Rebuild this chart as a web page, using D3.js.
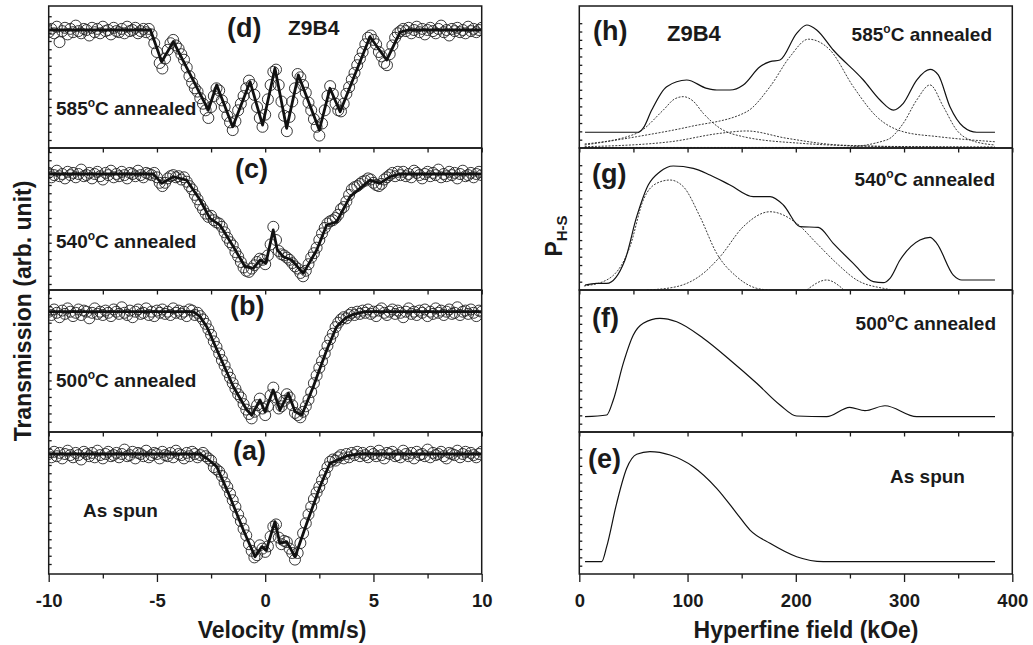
<!DOCTYPE html>
<html>
<head>
<meta charset="utf-8">
<script src="https://cdn.jsdelivr.net/npm/d3@7"></script>
<style>
  body { margin: 0; background: #fff; }
  text { font-family: "Liberation Sans", Arial, sans-serif; font-weight: bold; fill: #1a1a1a; }
</style>
</head>
<body>
<svg id="chart" width="1033" height="645"></svg>
<script>
// Mossbauer spectra, channel velocity = channelStart + i * channelStep (mm/s)
const channelStart = -10, channelStep = 0.125;

const transD = [98,101,97,103,89,99,102,96,101,98,104,99,97,101,100,95,102,98,101,97,103,99,100,96,102,99,98,101,97,103,99,100,102,97,99,101,98,
  101,96,88,80,70,65,74,82,88,91,
  86,83,78,73,66,58,52,47,44,38,
  33,27,20,30,40,47,45,36,30,22,
  16,9,17,27,33,40,47,54,50,41,
  30,20,12,23,37,50,62,64,50,35,
  22,8,21,35,47,60,57,50,43,34,
  27,19,12,4,15,27,40,49,42,33,
  27,26,33,42,48,55,61,68,74,80,
  87,93,95,91,87,80,76,70,68,78,
  86,93,97,99,101,
  99,102,97,100,103,98,101,96,100,102,99,97,101,104,98,100,95,101,99,102,98,100,97,103,99,101,98,100,102];

const transC = [101,97,99,103,98,100,96,102,99,101,97,100,104,98,99,101,96,100,102,98,95,101,99,103,97,100,98,102,99,96,101,100,98,103,99,97,101,100,
  99,101,97,92,89,92,96,98,99,97,
  98,95,97,93,89,86,81,77,72,68,
  64,61,62,58,56,55,52,47,42,38,
  35,29,25,20,15,12,11,14,17,20,
  23,22,18,26,36,52,40,30,27,26,
  24,22,19,16,14,10,7,12,18,24,
  28,33,40,46,51,55,57,58,60,63,
  68,70,75,81,86,88,89,91,93,94,
  96,95,92,90,89,91,95,97,99,101,
  98,102,
  99,102,98,100,97,103,101,99,96,100,102,98,101,99,104,97,100,98,102,99,101,96,100,103,98,99,101,97,100,102,99];

const transB = [100,97,102,99,95,101,98,103,100,96,99,102,97,101,100,94,99,103,98,100,97,101,99,96,102,100,98,104,99,97,101,95,100,102,98,99,103,97,100,96,101,99,102,98,100,97,103,99,101,98,100,96,102,
  101,97,99,96,93,89,84,79,73,68,
  62,56,51,45,40,35,30,25,22,16,
  11,7,3,9,15,21,12,6,14,24,
  31,22,12,14,19,25,22,15,8,6,
  4,9,14,20,27,35,42,49,55,62,
  69,75,80,86,90,93,95,94,97,99,
  97,100,98,101,
  99,102,98,100,96,101,103,99,97,100,102,98,101,99,95,100,103,98,100,97,101,99,102,96,100,98,103,99,101,97,100,102,98,99,104,97,100,101,98,102,99,96,101,100];

const transA = [100,97,102,98,101,96,100,103,99,97,101,99,95,102,100,98,101,97,103,99,96,100,102,98,99,101,97,100,104,98,99,102,96,101,100,98,103,97,99,101,100,96,102,99,98,101,97,103,100,99,96,101,98,102,100,97,
  99,101,98,96,94,88,86,84,80,74,
  70,64,58,52,45,39,32,26,18,12,
  6,8,17,14,11,16,25,34,36,24,
  18,21,20,14,10,4,10,19,28,37,
  45,52,59,65,70,76,82,88,93,95,
  94,97,99,96,100,97,101,99,102,98,
  101,99,97,102,100,98,103,99,96,101,100,102,98,99,97,103,100,98,101,96,102,99,100,98,104,97,101,99,100,102,98,96,101,100,99,103,97,100,102,98,101,99,97,100,102];

// fitted curves [velocity, transmission]
const fitD = [[-10,100],[-5.3,100],[-4.78,71.2],[-4.24,89.4],[-2.63,27.3],[-2.24,50],[-1.5,12.1],[-0.7,53],[-0.12,13.6],[0.45,65.2],[0.99,10.6],[1.53,59.1],[2.5,9.1],[2.99,47],[3.46,25.7],[4.84,93.9],[5.61,72.7],[6.23,98],[6.6,100],[10,100]];
const fitC = [[-10,100],[-5.17,100],[-4.78,91.5],[-4.24,97.5],[-3.63,94.5],[-3.01,76.4],[-2.55,59.7],[-2.09,53.6],[-1.47,33.9],[-0.93,15.7],[-0.55,14.3],[-0.24,21.8],[0.03,18.8],[0.37,49.1],[0.56,30.9],[0.84,24.8],[1.22,21.8],[1.76,9.7],[2.38,30.9],[2.84,53.6],[3.3,56.6],[3.92,79.4],[4.84,94.5],[5.3,91.5],[5.76,97.5],[6.2,100],[10,100]];
const fitB = [[-10,100],[-3.32,100],[-3.01,95.5],[-2.7,86.4],[-2.09,59.1],[-1.47,31.8],[-0.85,10.6],[-0.62,6.1],[-0.24,19.7],[-0.01,9.1],[0.37,28.8],[0.68,10.6],[1.07,25.8],[1.38,9.1],[1.69,6.1],[2.22,31.8],[2.84,65.2],[3.3,86.4],[3.7,94],[4.07,97.6],[4.6,100],[10,100]];
const fitA = [[-10,100],[-3.01,100],[-2.7,96.1],[-2.24,88.5],[-1.63,61.2],[-1.01,30.9],[-0.47,6.6],[-0.16,15.7],[0.05,12.7],[0.45,38.5],[0.68,18.8],[0.99,20.3],[1.38,6.6],[1.92,37],[2.53,70.3],[2.99,91.5],[3.76,98.2],[4.3,100],[10,100]];

// hyperfine field distributions [field kOe, P]
const distH = [[5.3,12.1],[54.5,12.1],[59,15.2],[66.9,29.2],[80.7,47.2],[99.2,52.3],[117.7,45.9],[126.9,44.6],[139.2,44.6],[151.5,48.5],[166.9,62.5],[176.2,66.4],[185.4,67.7],[200.8,88.2],[210.1,94.6],[219.3,90.8],[234.6,75.4],[262.4,52.3],[277.8,36.9],[290.1,29.2],[299.3,34.4],[311.7,52.3],[324,60.5],[331.6,56.2],[342.4,31.8],[354.7,16.4],[367.1,12.1],[384,12.1]];
const compH1 = [[5,3.1],[53,11.3],[77.6,29.2],[88,37.7],[96.1,39.5],[105,36.2],[114.5,26.7],[130,15.2],[151.5,8.7],[205,3.6],[280,1.2],[384,0.4]];
const compH2 = [[5,2.3],[53,8.7],[102,16.4],[154.6,27.9],[176.2,47.2],[194.6,70.2],[211.6,83.7],[231.6,75.4],[253.1,47.2],[274.7,24.1],[299.3,12.5],[331.6,8.7],[384,4.8]];
const compH3 = [[5,1],[84,4.8],[130,11.3],[154.6,13.1],[191.5,7.5],[240,2.3],[290,1.2],[384,0.8]];
const compH4 = [[5,0.4],[240,0.4],[284,6.2],[299.3,19],[311.7,36.9],[324,48.5],[336.3,31.8],[348.6,13.8],[361,6.2],[384,2.3]];

const distG = [[5.3,3.8],[16,5.1],[25.3,5.1],[42.2,23.1],[53,56.4],[63.7,80.8],[74.5,91],[86.8,95.4],[105.3,93.6],[120.7,88.5],[139.2,80.8],[160.7,71.8],[176.2,71.8],[188.5,65.4],[203.9,48.7],[220.8,48.2],[234.6,35.9],[253.1,20.5],[271.6,6.4],[280.8,5.6],[287,9],[296.3,23.1],[314.7,38.5],[324,40.5],[330.2,35.9],[345.5,11.5],[353.3,7.7],[384,7.7]];
const compG1 = [[4.3,3.1],[25.3,7.7],[46.8,33.3],[59.1,69.2],[71.5,82.1],[83.8,84.6],[96.1,79.5],[111.5,56.4],[126.9,28.2],[145.4,10.2],[163.9,1.3],[176,0]];
const compG2 = [[62.3,0],[90,2.6],[114.5,12.8],[130,25.6],[151.5,48.7],[176.2,60.2],[200.8,51.3],[219.3,35.9],[237.8,20.5],[256.3,7.7],[280.8,1.3],[290,0]];
const compG3 = [[210.1,0],[228.5,7.7],[243.9,0.5]];

const distF = [[5.3,11.8],[25.3,13.1],[31.4,24.6],[40.6,52.8],[49.9,74.6],[59.1,83.6],[74.5,87.4],[90,84.8],[114.5,72.1],[139.2,55.4],[163.9,37.5],[185.4,20.8],[200.8,12.3],[228.5,11.8],[249.8,19],[263.9,16.4],[282.4,20.2],[311.7,11.8],[384,11.8]];

const distE = [[5.3,9.5],[20.7,9.5],[25.3,21],[34.5,54.4],[43.8,81.3],[53,92.1],[65.3,94.1],[83.8,91.5],[105.3,82.5],[126.9,65.9],[145.4,46.7],[157.7,33.8],[176.2,23.6],[200.8,13.3],[225.4,9.5],[384,9.5]];

const velTicks = [-10, -5, 0, 5, 10];
const velMinor = [-7.5, -2.5, 2.5, 7.5];
const fieldTicks = [0, 100, 200, 300, 400];
const fieldMinor = [50, 150, 250, 350];

// ---- layout
const svg = d3.select("#chart");
const panelTops = [6, 148, 290, 432], panelH = 142;
const ink = "#1a1a1a";

let xV = d3.scaleLinear().domain([-10, 10]).range([48.7, 481.7]);
let xH = d3.scaleLinear().domain([0, 400]).range([579.3, 1012.3]);

const leftPanels = [
  {trans: transD, fit: fitD, base: 24},
  {trans: transC, fit: fitC, base: 26},
  {trans: transB, fit: fitB, base: 21.7},
  {trans: transA, fit: fitA, base: 22}
];
const rightPanels = [
  {dist: distH, comps: [compH1, compH2, compH3, compH4]},
  {dist: distG, comps: [compG1, compG2, compG3]},
  {dist: distF, comps: []},
  {dist: distE, comps: []}
];

function styleAxis(g) {
  g.select(".domain").remove();
  g.selectAll("line").attr("stroke", ink).attr("stroke-width", 1.3);
  g.selectAll("text")
    .style("font-family", '"Liberation Sans", Arial, sans-serif')
    .style("font-weight", "bold")
    .style("font-size", "18.5px")
    .attr("fill", ink);
}

function addBottomAxis(x, major, minor, bottom, isLast) {
  let majLen = isLast ? 8 : 4.5, minLen = 4.5;
  svg.append("g")
    .attr("transform", `translate(0,${bottom})`)
    .call(d3.axisBottom(x).tickValues(major).tickSize(majLen).tickPadding(12)
      .tickFormat(isLast ? (d => String(d)) : ""))
    .call(styleAxis);
  svg.append("g")
    .attr("transform", `translate(0,${bottom})`)
    .call(d3.axisBottom(x).tickValues(minor).tickSize(minLen).tickFormat(""))
    .call(styleAxis);
}

function addFrame(x0, x1, top) {
  svg.append("rect")
    .attr("x", x0).attr("y", top)
    .attr("width", x1 - x0).attr("height", panelH)
    .attr("fill", "none").attr("stroke", ink).attr("stroke-width", 1.5);
}

function addClip(id, x0, x1, top) {
  svg.append("clipPath").attr("id", id)
    .append("rect").attr("x", x0).attr("y", top).attr("width", x1 - x0).attr("height", panelH);
}

// left column: spectra
leftPanels.forEach(function (p, k) {
  let top = panelTops[k];
  let y = d3.scaleLinear().domain([100, 0]).range([top + p.base, top + p.base + 110]);
  addClip("clipL" + k, 48.7, 481.7, top);
  let g = svg.append("g").attr("clip-path", `url(#clipL${k})`);

  g.selectAll("circle")
    .data(p.trans)
    .enter()
    .append("circle")
    .attr("cx", (d, i) => xV(channelStart + i * channelStep))
    .attr("cy", d => y(d))
    .attr("r", 5.5)
    .attr("fill", "none")
    .attr("stroke", "#222")
    .attr("stroke-width", 0.9);

  g.append("path")
    .datum(p.fit)
    .attr("fill", "none")
    .attr("stroke", "#111")
    .attr("stroke-width", 2.8)
    .attr("stroke-linejoin", "round")
    .attr("d", d3.line().x(d => xV(d[0])).y(d => y(d[1])));

  // small inward ticks on the left edge
  let yTicks = d3.range(-30, 140, 7.5).filter(v => y(v) > top + 3 && y(v) < top + panelH - 3);
  svg.append("g")
    .attr("transform", `translate(${xV(-10)},0)`)
    .call(d3.axisLeft(y).tickValues(yTicks).tickSize(-3).tickFormat(""))
    .call(styleAxis);

  addFrame(48.7, 481.7, top);
  addBottomAxis(xV, velTicks, velMinor, top + panelH, k === 3);
});

// right column: distributions
let yR = d3.scaleLinear().domain([0, 100]).range([panelH, 12]);
rightPanels.forEach(function (p, k) {
  let top = panelTops[k];
  let y = v => top + yR(v);
  addClip("clipR" + k, 579.3, 1012.3, top);
  let g = svg.append("g").attr("clip-path", `url(#clipR${k})`);
  let line = d3.line().x(d => xH(d[0])).y(d => y(d[1])).curve(d3.curveMonotoneX);

  p.comps.forEach(function (c) {
    g.append("path")
      .datum(c)
      .attr("fill", "none")
      .attr("stroke", "#222")
      .attr("stroke-width", 0.9)
      .attr("stroke-dasharray", "2,1.4")
      .attr("d", line);
  });

  g.append("path")
    .datum(p.dist)
    .attr("fill", "none")
    .attr("stroke", "#111")
    .attr("stroke-width", 1.2)
    .attr("d", line);

  let tickVals = d3.range(6.4, 100, 6.4);
  svg.append("g")
    .attr("transform", `translate(${xH(0)},${top})`)
    .call(d3.axisLeft(yR).tickValues(tickVals).tickSize(-3).tickFormat(""))
    .call(styleAxis);

  addFrame(579.3, 1012.3, top);
  addBottomAxis(xH, fieldTicks, fieldMinor, top + panelH, k === 3);
});

// ---- labels
function label(txt, x, y, size, anchor) {
  svg.append("text")
    .attr("x", x).attr("y", y)
    .attr("font-size", size)
    .attr("text-anchor", anchor || "start")
    .text(txt);
}
function tempLabel(temp, x, y, anchor) {
  let t = svg.append("text")
    .attr("x", x).attr("y", y)
    .attr("font-size", 19)
    .attr("text-anchor", anchor || "start");
  t.append("tspan").text(temp);
  t.append("tspan").text("o").attr("font-size", 12).attr("dy", -8);
  t.append("tspan").text("C annealed").attr("dy", 8);
}

label("(d)", 227, 37, 27);
label("Z9B4", 288, 35, 21);
tempLabel("585", 56, 115);
label("(c)", 235, 178, 27);
tempLabel("540", 56, 248);
label("(b)", 230, 315, 27);
tempLabel("500", 56, 387);
label("(a)", 233, 460, 27);
label("As spun", 83, 517, 19);

label("(h)", 593, 40, 27);
label("Z9B4", 667, 41, 22);
tempLabel("585", 992, 41, "end");
label("(g)", 592, 183, 27);
tempLabel("540", 995, 186, "end");
label("(f)", 592, 327, 27);
tempLabel("500", 996, 330, "end");
label("(e)", 588, 468, 27);
label("As spun", 890, 483, 19);

// axis titles
label("Velocity (mm/s)", 282, 638, 23, "middle");
label("Hyperfine field (kOe)", 806, 638, 23, "middle");

svg.append("text")
  .attr("transform", "translate(31,311) rotate(-90)")
  .attr("text-anchor", "middle")
  .attr("font-size", 23)
  .text("Transmission (arb. unit)");

let ph = svg.append("text")
  .attr("transform", "translate(562,236) rotate(-90)")
  .attr("text-anchor", "middle")
  .attr("font-size", 23);
ph.append("tspan").text("P");
ph.append("tspan").text("H-S").attr("font-size", 15).attr("dy", 5);
</script>
</body>
</html>
